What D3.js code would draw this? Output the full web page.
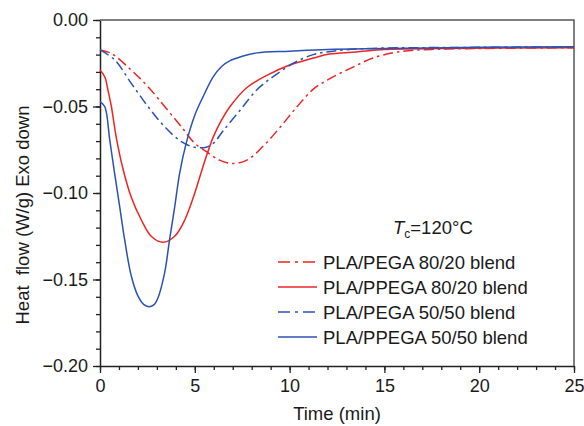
<!DOCTYPE html>
<html>
<head>
<meta charset="utf-8">
<script src="https://cdn.jsdelivr.net/npm/d3@7"></script>
<style>
  body { margin: 0; background: #fff; }
  text { font-family: "Liberation Sans", Arial, sans-serif; fill: #1a1a1a; }
</style>
</head>
<body>
<script>
// PLA/PEGA 80/20 blend (red, dash-dot)
var t_pega8020 = [0, 0.6, 1.65, 2.53, 3.41, 4.29, 5.0, 5.6, 6.3, 7.0, 7.75, 8.6, 9.5, 10.4, 11.25, 12.1, 13.2, 14.4, 15.7, 17.5, 20, 25];
var v_pega8020 = [-0.0173, -0.0193, -0.029, -0.0385, -0.050, -0.0617, -0.0713, -0.076, -0.081, -0.083, -0.081, -0.073, -0.062, -0.050, -0.040, -0.034, -0.028, -0.022, -0.0185, -0.017, -0.0165, -0.016];
// PLA/PPEGA 80/20 blend (red, solid)
var t_ppega8020 = [0, 0.25, 0.42, 0.6, 0.86, 1.21, 1.65, 2.18, 2.7, 3.32, 3.94, 4.47, 5.0, 5.43, 5.96, 6.4, 6.86, 7.75, 8.8, 10, 11.25, 12.1, 13.5, 15, 18, 25];
var v_ppega8020 = [-0.0289, -0.0328, -0.0405, -0.050, -0.068, -0.086, -0.1025, -0.1156, -0.125, -0.1285, -0.125, -0.1156, -0.100, -0.0848, -0.068, -0.058, -0.050, -0.039, -0.032, -0.026, -0.022, -0.0197, -0.0185, -0.017, -0.0165, -0.016];
// PLA/PEGA 50/50 blend (blue, dash-dot)
var t_pega5050 = [0, 0.77, 1.65, 2.53, 3.41, 4.29, 5.0, 5.6, 6.0, 6.5, 7.4, 8.3, 9.1, 10.2, 11.25, 12.3, 14, 17, 20, 25];
var v_pega5050 = [-0.0173, -0.023, -0.0366, -0.050, -0.0617, -0.0703, -0.0736, -0.0735, -0.071, -0.064, -0.052, -0.040, -0.033, -0.025, -0.020, -0.018, -0.0165, -0.016, -0.0158, -0.0155];
// PLA/PPEGA 50/50 blend (blue, solid)
var t_ppega5050 = [0, 0.25, 0.51, 0.77, 1.04, 1.30, 1.65, 2.0, 2.3, 2.58, 2.85, 3.06, 3.41, 3.67, 3.94, 4.2, 4.55, 5.0, 5.43, 5.96, 6.4, 6.86, 7.5, 8.28, 10, 12, 15, 20, 25];
var v_ppega5050 = [-0.0472, -0.050, -0.069, -0.0886, -0.108, -0.127, -0.148, -0.1595, -0.1644, -0.1657, -0.1645, -0.1605, -0.146, -0.127, -0.108, -0.0886, -0.071, -0.055, -0.0445, -0.033, -0.027, -0.0235, -0.021, -0.019, -0.018, -0.017, -0.0165, -0.0158, -0.0155];

var legendLabels = ["PLA/PEGA 80/20 blend", "PLA/PPEGA 80/20 blend", "PLA/PEGA 50/50 blend", "PLA/PPEGA 50/50 blend"];
var xTicks = [0, 5, 10, 15, 20, 25];
var yTicks = [0, -0.05, -0.10, -0.15, -0.20];

var red = "#ee2424", blue = "#2b52b3";
var dashdot = "10,4,2.5,4";

var series = [
  {t: t_pega8020, v: v_pega8020, color: red, dash: dashdot},
  {t: t_ppega8020, v: v_ppega8020, color: red, dash: null},
  {t: t_pega5050, v: v_pega5050, color: blue, dash: dashdot},
  {t: t_ppega5050, v: v_ppega5050, color: blue, dash: null}
];

var W = 584, H = 426;

var svg = d3.select("body").append("svg")
    .attr("width", W)
    .attr("height", H);

var x = d3.scaleLinear().domain([0, 25]).range([100, 574]);
var y = d3.scaleLinear().domain([-0.20, 0]).range([366, 20]);

var fmt = function(d) { return d === 0 ? "0.00" : d3.format(".2f")(d).replace("-", "\u2212"); };

// minor ticks
svg.append("g")
    .attr("transform", "translate(0,366)")
    .call(d3.axisBottom(x).tickValues(d3.range(0, 26, 1)).tickSize(4).tickFormat(""))
    .call(function(g) { g.select(".domain").remove(); });
svg.append("g")
    .attr("transform", "translate(100,0)")
    .call(d3.axisLeft(y).tickValues(d3.range(0, 21).map(function(i) { return -i / 100; })).tickSize(4).tickFormat(""))
    .call(function(g) { g.select(".domain").remove(); });

// major ticks
svg.append("g")
    .attr("transform", "translate(0,366)")
    .call(d3.axisBottom(x).tickValues(xTicks).tickSize(7).tickSizeOuter(0).tickPadding(6));
svg.append("g")
    .attr("transform", "translate(100,0)")
    .call(d3.axisLeft(y).tickValues(yTicks).tickSize(7).tickSizeOuter(0).tickPadding(5).tickFormat(fmt));

svg.selectAll(".tick line").attr("stroke", "#222").attr("stroke-width", 1.3);
svg.selectAll(".domain").attr("stroke", "#222").attr("stroke-width", 1.5);
svg.selectAll(".tick text").style("font-size", "18px").attr("fill", "#1a1a1a");

// top and right frame
svg.append("path")
    .attr("d", "M" + x(0) + "," + y(0) + "H" + x(25) + "V" + y(-0.20))
    .attr("fill", "none")
    .attr("stroke", "#555")
    .attr("stroke-width", 1.5);

var line = d3.line()
    .x(function(d) { return x(d[0]); })
    .y(function(d) { return y(d[1]); })
    .curve(d3.curveCatmullRom.alpha(0.5));

series.forEach(function(s) {
  svg.append("path")
      .datum(d3.zip(s.t, s.v))
      .attr("d", line)
      .attr("fill", "none")
      .attr("stroke", s.color)
      .attr("stroke-width", 1.5)
      .attr("stroke-dasharray", s.dash);
});

// axis titles
svg.append("text")
    .attr("x", (x(0) + x(25)) / 2)
    .attr("y", 420)
    .attr("text-anchor", "middle")
    .style("font-size", "18.5px")
    .text("Time (min)");

svg.append("text")
    .attr("transform", "translate(29,215) rotate(-90)")
    .attr("text-anchor", "middle")
    .style("font-size", "18.5px")
    .style("white-space", "pre")
    .text("Heat  flow (W/g) Exo down");

// Tc annotation
var tc = svg.append("text")
    .attr("x", 393)
    .attr("y", 234)
    .style("font-size", "18.5px");
tc.append("tspan").style("font-style", "italic").text("T");
tc.append("tspan").attr("dy", 4).style("font-size", "12px").text("c");
tc.append("tspan").attr("dy", -4).text("=120\u00b0C");

// legend
var leg = svg.append("g");
legendLabels.forEach(function(lab, i) {
  var ly = 262 + i * 25;
  leg.append("line")
      .attr("x1", 278).attr("x2", 317)
      .attr("y1", ly).attr("y2", ly)
      .attr("stroke", series[i].color)
      .attr("stroke-width", 1.5)
      .attr("stroke-dasharray", series[i].dash ? "12,5,3,5" : null);
  leg.append("text")
      .attr("x", 323)
      .attr("y", ly + 6.5)
      .style("font-size", "18.5px")
      .text(lab);
});
</script>
</body>
</html>
